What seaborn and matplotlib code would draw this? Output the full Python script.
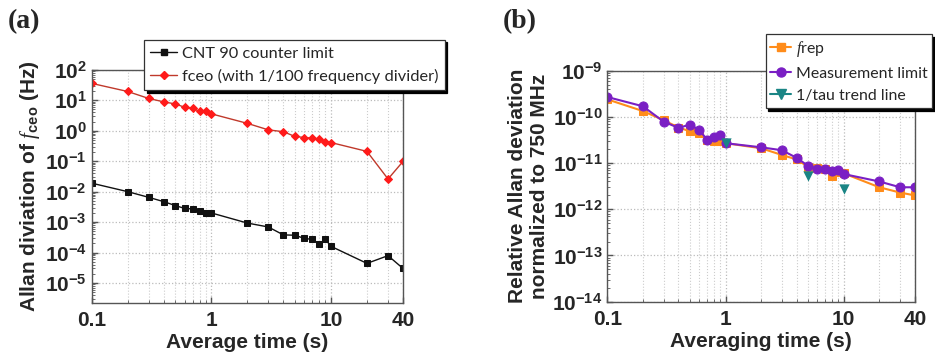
"""Allan deviation panels (a) fceo and (b) frep."""

import matplotlib
matplotlib.use("Agg")
import matplotlib.pyplot as plt
from matplotlib.lines import Line2D
from matplotlib.ticker import FixedLocator, FixedFormatter, LogLocator, NullFormatter
import pandas as pd
import seaborn as sns

# ---- data ----
tau = [0.1, 0.2, 0.3, 0.4, 0.5, 0.6, 0.7, 0.8, 0.9, 1, 2, 3, 4, 5, 6, 7, 8, 9, 10, 20, 30, 40]

cnt90_limit = [1.9e-2, 1.0e-2, 6.5e-3, 4.7e-3, 3.5e-3, 2.8e-3, 2.7e-3, 2.3e-3, 2.0e-3, 2.0e-3,
               9.3e-4, 6.9e-4, 3.8e-4, 3.7e-4, 2.9e-4, 2.7e-4, 1.9e-4, 2.7e-4, 1.6e-4,
               4.4e-5, 7.9e-5, 3.0e-5]
fceo = [36, 19.5, 11.5, 8.9, 7.6, 5.9, 5.5, 4.3, 4.3, 3.6,
        1.75, 1.07, 0.93, 0.65, 0.60, 0.57, 0.53, 0.43, 0.41,
        0.21, 0.026, 0.098]

frep = [2.4e-10, 1.34e-10, 8.5e-11, 5.9e-11, 4.9e-11, 4.4e-11, 3.2e-11, 3.0e-11, 3.0e-11, 2.7e-11,
        2.1e-11, 1.5e-11, 1.2e-11, 8.3e-12, 7.7e-12, 7.3e-12, 5.3e-12, 6.5e-12, 6.0e-12,
        3.0e-12, 2.3e-12, 2.0e-12]
meas_limit = [2.7e-10, 1.7e-10, 7.9e-11, 5.8e-11, 6.8e-11, 5.2e-11, 3.2e-11, 3.7e-11, 4.1e-11, 2.7e-11,
              2.2e-11, 1.9e-11, 1.3e-11, 8.7e-12, 7.6e-12, 7.6e-12, 6.9e-12, 7.0e-12, 5.8e-12,
              4.0e-12, 3.0e-12, 3.0e-12]
trend_tau = [1, 5, 10]
trend = [2.7e-11, 5.2e-12, 2.7e-12]

x_ticks = [0.1, 1, 10, 40]
x_tick_labels = ["0.1", "1", "10", "40"]

sns.set_style("ticks")
plt.rcParams["font.family"] = ["Liberation Sans", "DejaVu Sans"]
plt.rcParams["mathtext.fontset"] = "custom"
plt.rcParams["mathtext.rm"] = "Liberation Sans"
plt.rcParams["mathtext.bf"] = "Liberation Sans:bold"
plt.rcParams["mathtext.it"] = "Liberation Serif:italic"
plt.rcParams["mathtext.default"] = "regular"

BLACK = "#111111"
RED_LINE = "#c0392b"
RED_MK = "#ff1a1a"
ORANGE = "#ff8c1a"
PURPLE = "#7a1fc4"
TEAL = "#1a8585"

fig = plt.figure(figsize=(9.35, 3.62), dpi=100)
ax_a = fig.add_axes([0.098, 0.163, 0.333, 0.644])
ax_b = fig.add_axes([0.6495, 0.1666, 0.329, 0.638])


def style_axis(ax, yticks, xlabel, ylabel):
    ax.set_xscale("log")
    ax.set_yscale("log")
    ax.set_xlim(0.1, 40)
    ax.xaxis.set_major_locator(FixedLocator(x_ticks))
    ax.xaxis.set_major_formatter(FixedFormatter(x_tick_labels))
    ax.xaxis.set_minor_locator(LogLocator(base=10, subs=range(2, 10)))
    ax.xaxis.set_minor_formatter(NullFormatter())
    ax.yaxis.set_major_locator(FixedLocator(yticks))
    ax.yaxis.set_minor_locator(LogLocator(base=10, subs=range(2, 10)))
    ax.yaxis.set_minor_formatter(NullFormatter())
    ax.tick_params(which="both", direction="in", color="#555555")
    ax.tick_params(which="major", length=4, width=1)
    ax.tick_params(which="minor", length=2, width=0.6)
    ax.tick_params(axis="x", which="major", pad=6)
    ax.grid(which="major", color="#bbbbbb", linestyle=":", linewidth=0.9)
    ax.grid(which="minor", axis="x", color="#cccccc", linestyle=":", linewidth=0.8)
    for sp in ax.spines.values():
        sp.set_color("#555555")
        sp.set_linewidth(1.0)
    ax.set_xlabel(xlabel, fontsize=15, fontweight="bold", labelpad=2)
    ax.set_ylabel(ylabel, fontsize=15, fontweight="bold", labelpad=2)


def bold_ticks(ax, exps):
    ax.yaxis.set_major_formatter(FixedFormatter([f"$\\mathbf{{10^{{{k}}}}}$" for k in exps]))
    for lbl in ax.get_xticklabels() + ax.get_yticklabels():
        lbl.set_fontweight("bold")
        lbl.set_fontsize(15)


# ---- panel (a) ----
df_a = pd.DataFrame({"tau": tau, "cnt": cnt90_limit, "fceo": fceo})
sns.lineplot(data=df_a, x="tau", y="cnt", ax=ax_a, color=BLACK, lw=1.0,
             marker="s", markersize=5, markeredgecolor=BLACK, markerfacecolor=BLACK)
sns.lineplot(data=df_a, x="tau", y="fceo", ax=ax_a, color=RED_LINE, lw=1.0,
             marker="D", markersize=4, markeredgecolor=RED_MK, markerfacecolor=RED_MK)
ax_a.set_ylim(2.2e-6, 100)
ya_exp = list(range(-5, 3))
style_axis(ax_a, [10.0 ** k for k in ya_exp], "Average time (s)",
           r"Allan diviation of $\mathit{f}_{\mathbf{ceo}}$ (Hz)")
bold_ticks(ax_a, ya_exp)

handles_a = [
    Line2D([], [], color=BLACK, lw=1.0, marker="s", markersize=5, markerfacecolor=BLACK),
    Line2D([], [], color=RED_LINE, lw=1.0, marker="D", markersize=4,
           markerfacecolor=RED_MK, markeredgecolor=RED_MK),
]
leg_a = ax_a.legend(handles_a, ["CNT 90 counter limit", "fceo (with 1/100 frequency divider)"],
                    loc="upper left", bbox_to_anchor=(0.168, 1.13), frameon=True, fancybox=False,
                    shadow={"color": "black", "alpha": 1.0}, edgecolor="#333333",
                    framealpha=1, prop={"family": "Lato", "size": 11.8},
                    handlelength=1.6, handletextpad=0.3, borderpad=0.4, labelspacing=0.5,
                    borderaxespad=0)
leg_a.get_frame().set_linewidth(0.9)

# ---- panel (b) ----
df_b = pd.DataFrame({"tau": tau, "frep": frep, "meas": meas_limit})
df_t = pd.DataFrame({"tau": trend_tau, "trend": trend})
sns.lineplot(data=df_b, x="tau", y="frep", ax=ax_b, color=ORANGE, lw=1.5,
             marker="s", markersize=6, markeredgecolor=ORANGE, markerfacecolor=ORANGE)
sns.lineplot(data=df_b, x="tau", y="meas", ax=ax_b, color=PURPLE, lw=1.5,
             marker="o", markersize=6.5, markeredgecolor=PURPLE, markerfacecolor=PURPLE)
sns.scatterplot(data=df_t, x="tau", y="trend", ax=ax_b, color=TEAL, marker="v", s=55,
                edgecolor=TEAL, linewidth=0, zorder=5)
ax_b.set_ylim(1e-14, 1e-9)
yb_exp = list(range(-14, -8))
style_axis(ax_b, [10.0 ** k for k in yb_exp], "Averaging time (s)",
           "Relative Allan deviation\nnormalized to 750 MHz")
bold_ticks(ax_b, yb_exp)

handles_b = [
    Line2D([], [], color=ORANGE, lw=1.5, marker="s", markersize=6, markerfacecolor=ORANGE),
    Line2D([], [], color=PURPLE, lw=1.5, marker="o", markersize=6.5, markerfacecolor=PURPLE),
    Line2D([], [], color=TEAL, lw=1.5, marker="v", markersize=7, markerfacecolor=TEAL),
]
leg_b = ax_b.legend(handles_b, [r"$\mathit{f}$rep", "Measurement limit", "1/tau trend line"],
                    loc="upper left", bbox_to_anchor=(0.515, 1.158), frameon=True, fancybox=False,
                    shadow={"color": "black", "alpha": 1.0}, edgecolor="#333333",
                    framealpha=1, prop={"family": "Lato", "size": 11.4},
                    handlelength=1.3, handletextpad=0.3, borderpad=0.3, labelspacing=0.5,
                    borderaxespad=0)
leg_b.get_frame().set_linewidth(0.9)

# panel letters
fig.text(0.008, 0.975, "(a)", fontsize=20, fontweight="bold", family="Liberation Serif", va="top")
fig.text(0.538, 0.975, "(b)", fontsize=20, fontweight="bold", family="Liberation Serif", va="top")

fig.savefig("out.png", dpi=100)
